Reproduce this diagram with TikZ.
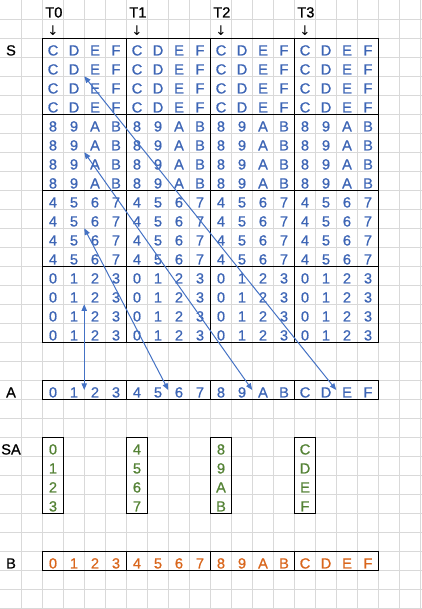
\documentclass[tikz,border=0pt]{standalone}
\usepackage{fontspec}
\setmainfont{Liberation Sans}
\newfontfamily\cellfont{Liberation Sans}[FakeBold=0.8]
\newfontfamily\arrowfont{DejaVu Sans}
\usetikzlibrary{arrows.meta}
\definecolor{sblue}{HTML}{3D65B5}
\definecolor{ablue}{HTML}{4472C4}
\definecolor{sgreen}{HTML}{548235}
\definecolor{borange}{HTML}{D9661C}
\definecolor{gridgray}{HTML}{D9D9D9}
\begin{document}
\begin{tikzpicture}[x=15.75pt,y=-14.25pt,
  cell/.style={minimum width=15.75pt,minimum height=14.25pt,inner sep=0pt,
    text height=11.2pt,text depth=0pt,font=\cellfont\fontsize{11}{13}\selectfont},
  scell/.style={cell,text=sblue},
  sacell/.style={cell,text=sgreen},
  bcell/.style={cell,text=borange},
  lbl/.style={cell,text=black},
  tlbl/.style={cell,text=black,minimum width=0pt,anchor=west},
  downmark/.style={inner sep=0pt,font=\arrowfont\fontsize{10}{11}\selectfont},
  gridline/.style={gridgray,line width=0.75pt},
  blk/.style={black,line width=0.85pt},
  arr/.style={ablue,line width=0.75pt,
    {Triangle[length=5pt,width=4pt]}-{Triangle[length=5pt,width=4pt]}}
]
\useasboundingbox (0,0) rectangle (20.0476,32.0526);
\begin{scope}[shift={(0.024,0.026)}]
% spreadsheet grid
\foreach \k in {1,...,20} \draw[gridline] (\k,-0.1) -- (\k,32.1);
\foreach \k in {1,...,32} \draw[gridline] (-0.1,\k) -- (20.1,\k);

% block borders
\draw[blk] (2,2) rectangle (18,18);
\foreach \v in {6,10,14} {
  \draw[blk] (\v,2) -- (\v,18);
  \draw[blk] (2,\v) -- (18,\v);
  \draw[blk] (\v,20) -- (\v,21);
  \draw[blk] (\v,29) -- (\v,30);
}
\draw[blk] (2,20) rectangle (18,21);
\draw[blk] (2,29) rectangle (18,30);
\foreach \v in {2,6,10,14} \draw[blk] (\v,23) rectangle (\v+1,27);

% column headers
\foreach \t [count=\ti from 0] in {2,6,10,14} {
  \node[tlbl] (t\ti) at (\t+0.12,0.5) {T\ti};
  \node[downmark] (d\ti) at (\t+0.5,1.6) {↓};
}

% row labels
\node[lbl] (lS) at (0.5,2.5) {S};
\node[lbl] (lA) at (0.5,20.5) {A};
\node[lbl] (lSA) at (0.5,23.5) {SA};
\node[lbl] (lB) at (0.5,29.5) {B};

% S block
\foreach \ca/\cb/\cc/\cd [count=\bi from 0] in {C/D/E/F,8/9/A/B,4/5/6/7,0/1/2/3} {
  \foreach \k in {0,1,2,3} {
    \foreach \t in {0,1,2,3} {
      \pgfmathtruncatemacro\row{2+4*\bi+\k}
      \pgfmathtruncatemacro\cola{2+4*\t}
      \pgfmathtruncatemacro\colb{3+4*\t}
      \pgfmathtruncatemacro\colc{4+4*\t}
      \pgfmathtruncatemacro\cold{5+4*\t}
      \node[scell] (s-\cola-\row) at (\cola+0.5,\row+0.5) {\ca};
      \node[scell] (s-\colb-\row) at (\colb+0.5,\row+0.5) {\cb};
      \node[scell] (s-\colc-\row) at (\colc+0.5,\row+0.5) {\cc};
      \node[scell] (s-\cold-\row) at (\cold+0.5,\row+0.5) {\cd};
    }
  }
}

% A, SA and B
\foreach \ch [count=\i from 0] in {0,1,2,3,4,5,6,7,8,9,A,B,C,D,E,F} {
  \pgfmathtruncatemacro\col{2+\i}
  \pgfmathtruncatemacro\sacol{2+4*floor(\i/4)}
  \pgfmathtruncatemacro\sarow{23+mod(\i,4)}
  \node[scell] (a-\col) at (\col+0.5,20.5) {\ch};
  \node[sacell] (sa-\i) at (\sacol+0.5,\sarow+0.5) {\ch};
  \node[bcell] (b-\col) at (\col+0.5,29.5) {\ch};
}

% arrows
\draw[arr] (a-16.west) -- (s-4-4.north west);
\draw[arr] (a-12.west) -- (s-4-8.north west);
\draw[arr] (a-8.west) -- (s-4-12.north west);
\draw[arr] (a-4.west) -- (s-4-16.north west);
\end{scope}
\end{tikzpicture}
\end{document}
